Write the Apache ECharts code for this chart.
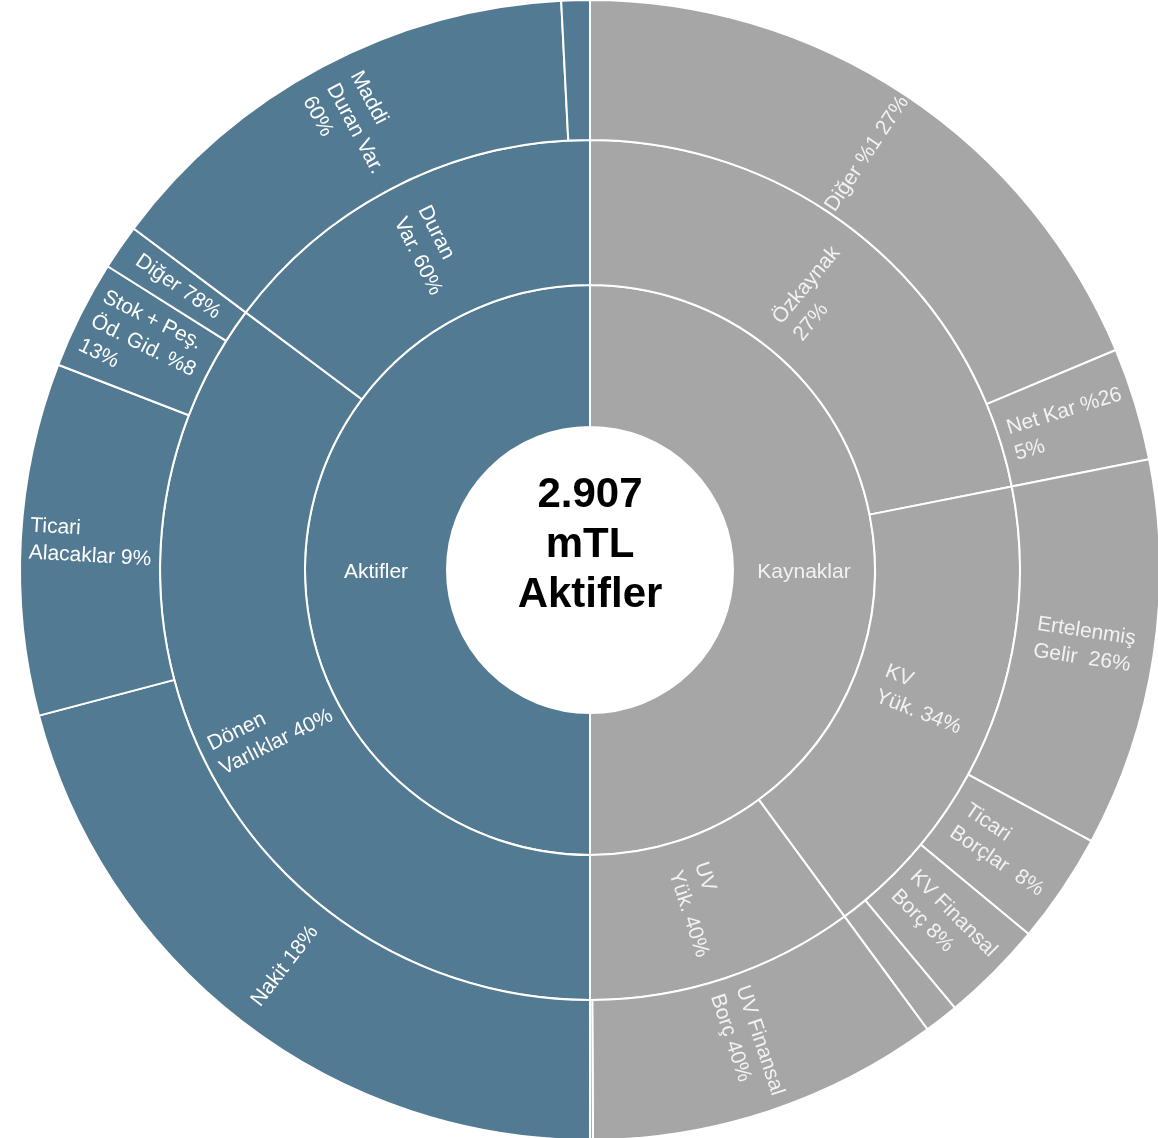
<!DOCTYPE html>
<html>
<head>
    <meta charset="utf-8">
    <script src="https://cdn.jsdelivr.net/npm/echarts@6/dist/echarts.min.js"></script>
    <style type="text/css">
        #main {height:100%;width:100%;position:absolute;}
        body {margin:0px;padding:0px;overflow:hidden;background:#fff;}
    </style>
</head>
<body>
<div id="main"></div>
<script type="text/javascript">
    // values, as degrees of arc (each half = 180)
    let topNames = ['Kaynaklar', 'Aktifler'];
    let topColors = ['#a6a6a6', '#527a93'];

    let kaynakGroups = ['Özkaynak\n27%', 'KV\nYük. 34%', 'UV\nYük. 40%'];
    let ozkaynakNames = ['Diğer %1 27%', 'Net Kar %26\n5%'];
    let ozkaynakValues = [67.3, 11.5];
    let kvNames = ['Ertelenmiş\nGelir  26%', 'Ticari\nBorçlar  8%', 'KV Finansal\nBorç 8%', ''];
    let kvValues = [39.6, 11.3, 10.5, 3.5];
    let uvNames = ['UV Finansal\nBorç 40%', ''];
    let uvValues = [36.0, 0.3];

    let aktifGroups = ['Dönen\nVarlıklar 40%', 'Duran\nVar. 60%'];
    let donenNames = ['Nakit 18%', 'Ticari\nAlacaklar 9%', 'Stok + Peş.\nÖd. Gid. %8\n13%', 'Diğer 78%'];
    let donenValues = [75.2, 35.9, 11.1, 4.6];
    let duranNames = ['Maddi\nDuran Var.\n60%', ''];
    let duranValues = [50.3, 2.9];

    let centerText = '2.907\nmTL\nAktifler';

    function leaves(names, values, color) {
        return names.map(function (n, i) {
            return {name: n, value: values[i], itemStyle: {color: color}};
        });
    }

    let data = [
        {
            name: topNames[0],
            itemStyle: {color: topColors[0]},
            children: [
                {name: kaynakGroups[0], itemStyle: {color: topColors[0]}, children: leaves(ozkaynakNames, ozkaynakValues, topColors[0])},
                {name: kaynakGroups[1], itemStyle: {color: topColors[0]}, children: leaves(kvNames, kvValues, topColors[0])},
                {name: kaynakGroups[2], itemStyle: {color: topColors[0]}, children: leaves(uvNames, uvValues, topColors[0])}
            ]
        },
        {
            name: topNames[1],
            itemStyle: {color: topColors[1]},
            children: [
                {name: aktifGroups[0], itemStyle: {color: topColors[1]}, children: leaves(donenNames, donenValues, topColors[1])},
                {name: aktifGroups[1], itemStyle: {color: topColors[1]}, children: leaves(duranNames, duranValues, topColors[1])}
            ]
        }
    ];

    let myChart = echarts.init(document.getElementById('main'));
    let font = '"Liberation Sans", Arial, sans-serif';
    // lines of a label left aligned inside a centred block
    let leftLines = function (p) {
        if (!p.name) return '';
        let top = p.treePathInfo && p.treePathInfo[1] ? p.treePathInfo[1].name : '';
        let key = top === topNames[0] ? 'g' : 'w';
        return '{' + key + '|' + p.name + '}';
    };
    let richLeft = {
        w: {align: 'left', color: '#ffffff', fontSize: 21, fontFamily: font, lineHeight: 27},
        g: {align: 'left', color: '#f2f2f2', fontSize: 21, fontFamily: font, lineHeight: 27}
    };

    let option = {
        animation: false,
        graphic: [{
            type: 'text',
            x: 590,
            y: 545,
            style: {
                text: centerText,
                font: 'bold 42px ' + font,
                lineHeight: 50,
                fill: '#000',
                textAlign: 'center',
                textVerticalAlign: 'middle'
            },
            z: 100
        }],
        series: [{
            type: 'sunburst',
            center: [590, 570],
            radius: [143, 570],
            sort: null,
            startAngle: 90,
            nodeClick: false,
            data: data,
            itemStyle: {borderColor: '#fff', borderWidth: 2},
            label: {
                color: '#fff',
                fontSize: 21,
                fontFamily: font,
                rotate: 'radial',
                lineHeight: 27,
                formatter: leftLines,
                rich: richLeft
            },
            levels: [
                {},
                {r0: 143, r: 285, label: {rotate: 0, padding: [4, 0, 0, 0]}},
                {r0: 285, r: 430},
                {r0: 430, r: 570}
            ]
        }]
    };
    myChart.setOption(option);
    window.onresize = myChart.resize;
</script>
</body>
</html>
